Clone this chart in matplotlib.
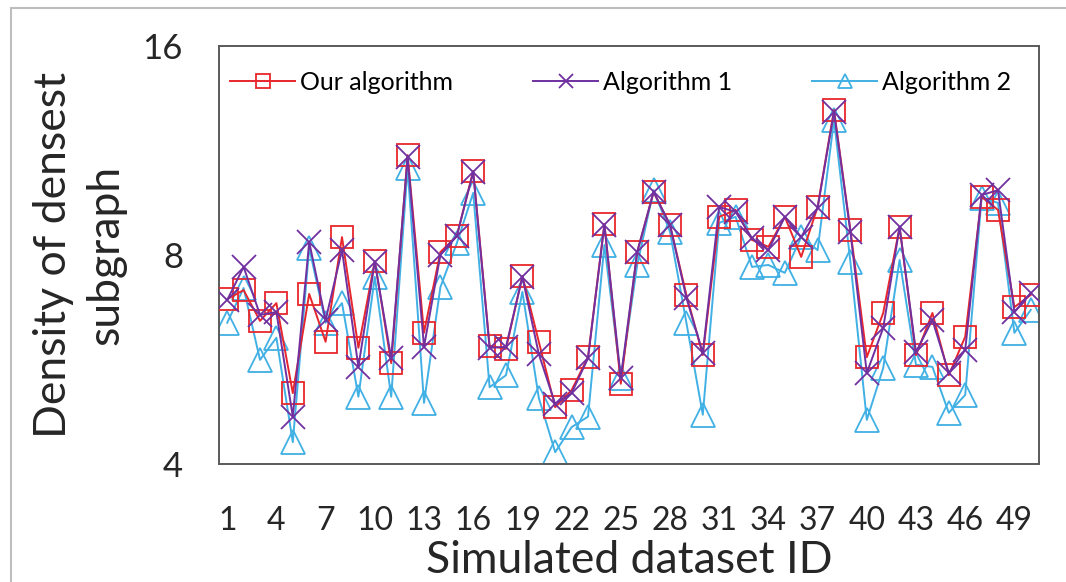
import matplotlib.pyplot as plt
from matplotlib.patches import Rectangle
from matplotlib.ticker import FixedLocator, NullLocator

plt.rcParams['font.family'] = ['Lato', 'DejaVu Sans']

# dataset ids 1..50
ids = list(range(1, 51))

our_alg = [6.91, 7.12, 6.43, 6.82, 5.06, 7.03, 6.00, 8.49, 5.88, 7.84,
           5.59, 11.14, 6.18, 8.08, 8.52, 10.57, 5.92, 5.86, 7.46, 6.00,
           4.83, 5.11, 5.70, 8.87, 5.22, 8.08, 9.86, 8.84, 7.01, 5.74,
           9.08, 9.29, 8.41, 8.22, 9.08, 7.95, 9.38, 12.94, 8.69, 5.70,
           6.60, 8.78, 5.74, 6.60, 5.37, 6.10, 9.70, 9.29, 6.73, 7.01]

alg1 = [6.89, 7.69, 6.56, 6.62, 4.68, 8.35, 6.45, 8.13, 5.52, 7.82,
        5.68, 11.07, 5.90, 8.00, 8.52, 10.53, 5.88, 5.90, 7.44, 5.76,
        4.88, 5.06, 5.68, 8.84, 5.32, 8.08, 9.86, 8.84, 6.94, 5.78,
        9.38, 9.23, 8.46, 8.13, 9.08, 8.49, 9.35, 12.86, 8.64, 5.41,
        6.28, 8.78, 5.80, 6.45, 5.41, 5.84, 9.76, 9.92, 6.62, 7.05]

alg2 = [6.39, 7.17, 5.65, 6.08, 4.30, 8.19, 6.39, 6.82, 5.00, 7.44,
        5.00, 10.68, 4.90, 7.19, 8.32, 9.83, 5.16, 5.37, 7.08, 4.98,
        4.16, 4.52, 4.68, 8.27, 5.32, 7.74, 9.92, 8.64, 6.39, 4.71,
        8.90, 9.08, 7.69, 7.74, 7.54, 8.49, 8.13, 12.52, 7.82, 4.63,
        5.50, 7.87, 5.56, 5.52, 4.74, 5.03, 9.67, 9.51, 6.18, 6.67]

xtick_ids = list(range(1, 50, 3))
ytick_vals = [4, 8, 16]

fig = plt.figure(figsize=(10.66, 5.82), dpi=100)
ax = fig.add_axes([219 / 1066, 1 - 464 / 582, 820 / 1066, 418 / 582])

# outer frame of the pasted chart
fig.patches.append(Rectangle((11 / 1066, -0.1), 1.2, 1 - 8 / 582 + 0.1,
                             transform=fig.transFigure, fill=False,
                             edgecolor='#bdbdbd', linewidth=1.5))

ax.plot(ids, our_alg, color='#e8262b', marker='s', markersize=16,
        markerfacecolor='none', markeredgewidth=1.3, linewidth=1.4,
        label='Our algorithm', zorder=3)
ax.plot(ids, alg1, color='#7030a0', marker='x', markersize=17,
        markeredgewidth=1.3, linewidth=1.4, label='Algorithm 1', zorder=4)
ax.plot(ids, alg2, color='#41b0e4', marker='^', markersize=17,
        markerfacecolor='none', markeredgewidth=1.3, linewidth=1.4,
        label='Algorithm 2', zorder=2)

ax.set_yscale('log', base=2)
ax.set_ylim(4, 16)
ax.yaxis.set_major_locator(FixedLocator(ytick_vals))
ax.yaxis.set_minor_locator(NullLocator())
ax.set_yticklabels([str(v) for v in ytick_vals])
ax.set_xlim(0.5, 50.5)
ax.set_xticks(xtick_ids)
ax.set_xticklabels([str(v) for v in xtick_ids])

ax.tick_params(axis='y', length=0, labelsize=25, colors='#262626', pad=26)
ax.tick_params(axis='x', length=0, labelsize=23, colors='#262626', pad=30)

for s in ax.spines.values():
    s.set_color('#5a5a5a')
    s.set_linewidth(1.4)

ax.set_xlabel('Simulated dataset ID', fontsize=32, color='#262626', labelpad=3)
fig.text(80 / 1066, 1 - 255 / 582, 'Density of densest\nsubgraph',
         rotation=90, ha='center', va='center', multialignment='center',
         fontsize=32, color='#262626', linespacing=1.35)

ax.legend(loc='upper center', ncol=3, frameon=False, fontsize=18,
          handlelength=2.6, columnspacing=3.2, handletextpad=0.2,
          bbox_to_anchor=(0.49, 0.995), markerscale=0.6)

fig.savefig('out.png', dpi=100)
